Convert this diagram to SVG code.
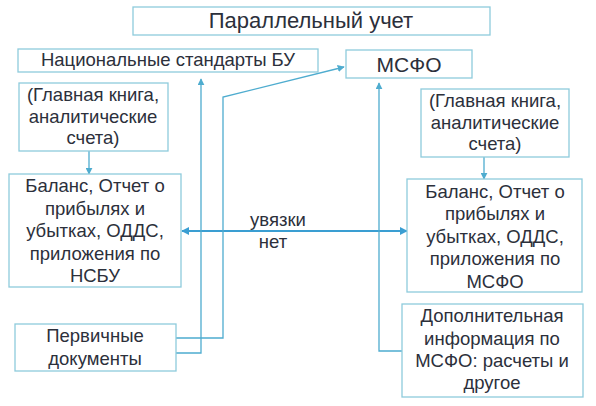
<svg xmlns="http://www.w3.org/2000/svg" width="596" height="406" viewBox="0 0 596 406">
<defs>
<style>
.box{fill:#ffffff;stroke:#8ecbdc;stroke-width:1.3}
.t{font-family:"Liberation Sans",Arial,sans-serif;font-size:18.5px;fill:#2c303b;text-anchor:middle}
.ln{fill:none;stroke:#4eaccf;stroke-width:1.3}
.ln2{fill:none;stroke:#3a9ed2;stroke-width:2}
</style>
<marker id="ah" viewBox="0 0 10 10" refX="9" refY="5" markerWidth="7" markerHeight="7" markerUnits="userSpaceOnUse" orient="auto-start-reverse">
<path d="M0,0 L10,5 L0,10 z" fill="#4eaccf"/>
</marker>
<marker id="ah2" viewBox="0 0 10 10" refX="9" refY="5" markerWidth="8" markerHeight="8" markerUnits="userSpaceOnUse" orient="auto-start-reverse">
<path d="M0,0 L10,5 L0,10 z" fill="#3a9ed2"/>
</marker>
</defs>
<rect width="596" height="406" fill="#ffffff"/>

<g id="connectors">
<line class="ln" x1="89" y1="151" x2="89" y2="174" marker-end="url(#ah)"/>
<line class="ln" x1="484" y1="157" x2="484" y2="179" marker-end="url(#ah)"/>
<line class="ln2" x1="182" y1="231" x2="407" y2="231" marker-start="url(#ah2)" marker-end="url(#ah2)"/>
<polyline class="ln" points="176,353 201,353 201,79" marker-end="url(#ah)"/>
<polyline class="ln" points="176,338 223,338 223,97 344,67" marker-end="url(#ah)"/>
<polyline class="ln" points="402,351 379,351 379,83" marker-end="url(#ah)"/>
<text class="t" x="278" y="226" font-size="18">увязки</text>
<text class="t" x="273" y="248" font-size="18">нет</text>
</g>

<g id="title">
<rect class="box" x="133" y="7" width="357" height="28"/>
<text class="t" x="311" y="28" style="font-size:22px">Параллельный учет</text>
</g>

<g id="nsbu">
<rect class="box" x="18" y="49" width="300" height="23"/>
<text class="t" x="168" y="66">Национальные стандарты БУ</text>
</g>

<g id="msfo">
<rect class="box" x="346" y="50" width="126" height="28"/>
<text class="t" x="409" y="72" style="font-size:21px">МСФО</text>
</g>

<g id="ledger-left">
<rect class="box" x="19" y="83" width="149" height="68"/>
<text class="t" x="93" y="101">(Главная книга,</text>
<text class="t" x="93" y="123">аналитические</text>
<text class="t" x="93" y="144">счета)</text>
</g>

<g id="ledger-right">
<rect class="box" x="421" y="89" width="148" height="68"/>
<text class="t" x="495" y="107">(Главная книга,</text>
<text class="t" x="495" y="129">аналитические</text>
<text class="t" x="495" y="150">счета)</text>
</g>

<g id="report-left">
<rect class="box" x="9" y="174" width="172" height="113"/>
<text class="t" x="95" y="192">Баланс, Отчет о</text>
<text class="t" x="95" y="215">прибылях и</text>
<text class="t" x="95" y="237">убытках, ОДДС,</text>
<text class="t" x="95" y="260">приложения по</text>
<text class="t" x="95" y="282">НСБУ</text>
</g>

<g id="report-right">
<rect class="box" x="407" y="179" width="175" height="113"/>
<text class="t" x="495" y="198">Баланс, Отчет о</text>
<text class="t" x="495" y="220">прибылях и</text>
<text class="t" x="495" y="243">убытках, ОДДС,</text>
<text class="t" x="495" y="265">приложения по</text>
<text class="t" x="495" y="288">МСФО</text>
</g>

<g id="primary">
<rect class="box" x="15" y="324" width="161" height="47"/>
<text class="t" x="95" y="342">Первичные</text>
<text class="t" x="95" y="365">документы</text>
</g>

<g id="additional">
<rect class="box" x="402" y="304" width="181" height="93"/>
<text class="t" x="492" y="322">Дополнительная</text>
<text class="t" x="492" y="345">информация по</text>
<text class="t" x="492" y="367">МСФО: расчеты и</text>
<text class="t" x="492" y="389">другое</text>
</g>
</svg>
